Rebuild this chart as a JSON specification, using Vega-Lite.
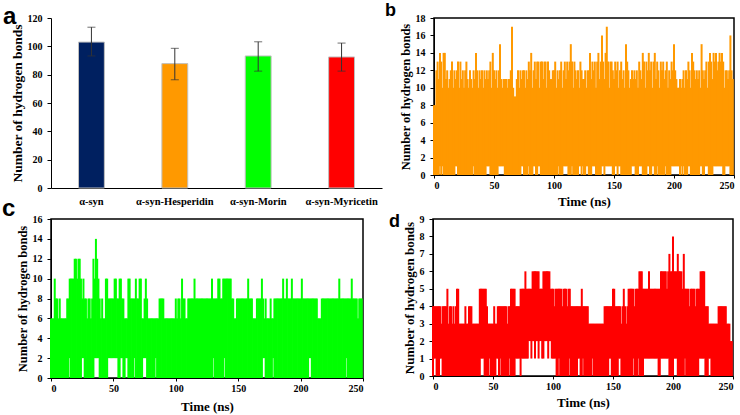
{
  "$schema": "https://vega.github.io/schema/vega-lite/v6.json",
  "background": "white",
  "padding": {"left": 1, "top": 1, "right": 0, "bottom": 0},
  "config": {
    "font": "Liberation Serif",
    "view": {"stroke": null},
    "axis": {
      "grid": false,
      "labelFont": "Liberation Serif",
      "labelFontWeight": "bold",
      "labelFontSize": 10,
      "labelColor": "black",
      "titleFont": "Liberation Serif",
      "titleFontWeight": "bold",
      "titleFontSize": 12,
      "titleColor": "black",
      "domainColor": "black",
      "tickColor": "black",
      "tickSize": 3,
      "labelPadding": 2
    },
    "axisY": {"tickSize": 4, "labelPadding": 5, "titlePadding": 3},
    "title": {
      "font": "Liberation Sans",
      "fontWeight": "bold",
      "color": "black",
      "anchor": "start",
      "frame": "group",
      "baseline": "alphabetic"
    }
  },
  "datasets": {
    "bonds": [
      {"g": "α-syn", "v": 103.0, "lo": 93.2, "hi": 113.5},
      {"g": "α-syn-Hesperidin", "v": 87.8, "lo": 76.4, "hi": 98.6},
      {"g": "α-syn-Morin", "v": 93.2, "lo": 82.5, "hi": 103.2},
      {"g": "α-syn-Myricetin", "v": 92.5, "lo": 82.5, "hi": 102.3}
    ],
    "hb_hesperidin": [
      {"t":0,"l":0,"h":8},{"t":1,"l":0,"h":8},{"t":2,"l":0,"h":12},{"t":3,"l":0,"h":13},{"t":4,"l":0,"h":11},
      {"t":5,"l":1,"h":14},{"t":6,"l":0,"h":13},{"t":7,"l":1,"h":10},{"t":8,"l":0,"h":14},{"t":9,"l":0,"h":14},
      {"t":10,"l":0,"h":11},{"t":11,"l":0,"h":12},{"t":12,"l":0,"h":10},{"t":13,"l":0,"h":11},{"t":14,"l":0,"h":12},
      {"t":15,"l":0,"h":13},{"t":16,"l":0,"h":10},{"t":17,"l":0,"h":12},{"t":18,"l":1,"h":11},{"t":19,"l":1,"h":12},
      {"t":20,"l":0,"h":13},{"t":21,"l":0,"h":10},{"t":22,"l":0,"h":13},{"t":23,"l":0,"h":11},{"t":24,"l":0,"h":12},
      {"t":25,"l":0,"h":10},{"t":26,"l":0,"h":12},{"t":27,"l":0,"h":13},{"t":28,"l":0,"h":11},{"t":29,"l":0,"h":10},
      {"t":30,"l":0,"h":12},{"t":31,"l":0,"h":11},{"t":32,"l":0,"h":10},{"t":33,"l":1,"h":12},{"t":34,"l":0,"h":11},
      {"t":35,"l":0,"h":14},{"t":36,"l":0,"h":12},{"t":37,"l":0,"h":10},{"t":38,"l":0,"h":12},{"t":39,"l":0,"h":11},
      {"t":40,"l":0,"h":12},{"t":41,"l":0,"h":10},{"t":42,"l":0,"h":12},{"t":43,"l":0,"h":11},{"t":44,"l":1,"h":12},
      {"t":45,"l":1,"h":11},{"t":46,"l":1,"h":12},{"t":47,"l":0,"h":13},{"t":48,"l":0,"h":10},{"t":49,"l":0,"h":14},
      {"t":50,"l":0,"h":12},{"t":51,"l":0,"h":11},{"t":52,"l":0,"h":12},{"t":53,"l":0,"h":10},{"t":54,"l":1,"h":12},
      {"t":55,"l":1,"h":15},{"t":56,"l":1,"h":11},{"t":57,"l":1,"h":10},{"t":58,"l":1,"h":11},{"t":59,"l":0,"h":11},
      {"t":60,"l":0,"h":11},{"t":61,"l":0,"h":10},{"t":62,"l":0,"h":11},{"t":63,"l":0,"h":11},{"t":64,"l":0,"h":12},
      {"t":65,"l":0,"h":17},{"t":66,"l":0,"h":10},{"t":67,"l":0,"h":9},{"t":68,"l":0,"h":9},{"t":69,"l":0,"h":11},
      {"t":70,"l":0,"h":12},{"t":71,"l":0,"h":10},{"t":72,"l":0,"h":12},{"t":73,"l":1,"h":11},{"t":74,"l":1,"h":12},
      {"t":75,"l":0,"h":12},{"t":76,"l":0,"h":10},{"t":77,"l":0,"h":12},{"t":78,"l":0,"h":11},{"t":79,"l":1,"h":13},
      {"t":80,"l":0,"h":12},{"t":81,"l":0,"h":14},{"t":82,"l":0,"h":10},{"t":83,"l":1,"h":12},{"t":84,"l":1,"h":13},
      {"t":85,"l":0,"h":11},{"t":86,"l":0,"h":13},{"t":87,"l":1,"h":13},{"t":88,"l":1,"h":10},{"t":89,"l":0,"h":13},
      {"t":90,"l":0,"h":13},{"t":91,"l":0,"h":11},{"t":92,"l":0,"h":13},{"t":93,"l":0,"h":13},{"t":94,"l":0,"h":10},
      {"t":95,"l":0,"h":13},{"t":96,"l":0,"h":12},{"t":97,"l":0,"h":11},{"t":98,"l":0,"h":11},{"t":99,"l":0,"h":12},
      {"t":100,"l":0,"h":12},{"t":101,"l":0,"h":13},{"t":102,"l":0,"h":10},{"t":103,"l":0,"h":12},{"t":104,"l":1,"h":11},
      {"t":105,"l":0,"h":12},{"t":106,"l":0,"h":13},{"t":107,"l":0,"h":10},{"t":108,"l":1,"h":12},{"t":109,"l":1,"h":13},
      {"t":110,"l":1,"h":11},{"t":111,"l":1,"h":13},{"t":112,"l":0,"h":12},{"t":113,"l":0,"h":13},{"t":114,"l":0,"h":15},
      {"t":115,"l":1,"h":13},{"t":116,"l":0,"h":10},{"t":117,"l":0,"h":13},{"t":118,"l":0,"h":12},{"t":119,"l":0,"h":11},
      {"t":120,"l":0,"h":12},{"t":121,"l":1,"h":10},{"t":122,"l":1,"h":13},{"t":123,"l":0,"h":12},{"t":124,"l":1,"h":11},
      {"t":125,"l":0,"h":11},{"t":126,"l":0,"h":12},{"t":127,"l":1,"h":10},{"t":128,"l":1,"h":12},{"t":129,"l":0,"h":12},
      {"t":130,"l":0,"h":14},{"t":131,"l":0,"h":11},{"t":132,"l":1,"h":13},{"t":133,"l":1,"h":12},{"t":134,"l":1,"h":13},
      {"t":135,"l":0,"h":10},{"t":136,"l":0,"h":13},{"t":137,"l":0,"h":14},{"t":138,"l":0,"h":11},{"t":139,"l":0,"h":13},
      {"t":140,"l":1,"h":16},{"t":141,"l":1,"h":13},{"t":142,"l":0,"h":11},{"t":143,"l":1,"h":14},{"t":144,"l":1,"h":17},
      {"t":145,"l":1,"h":13},{"t":146,"l":1,"h":10},{"t":147,"l":1,"h":13},{"t":148,"l":1,"h":13},{"t":149,"l":0,"h":12},
      {"t":150,"l":0,"h":11},{"t":151,"l":1,"h":13},{"t":152,"l":1,"h":12},{"t":153,"l":0,"h":13},{"t":154,"l":1,"h":10},
      {"t":155,"l":1,"h":12},{"t":156,"l":0,"h":13},{"t":157,"l":0,"h":11},{"t":158,"l":0,"h":12},{"t":159,"l":0,"h":10},
      {"t":160,"l":0,"h":15},{"t":161,"l":0,"h":13},{"t":162,"l":0,"h":12},{"t":163,"l":0,"h":10},{"t":164,"l":0,"h":11},
      {"t":165,"l":1,"h":12},{"t":166,"l":1,"h":11},{"t":167,"l":1,"h":12},{"t":168,"l":0,"h":11},{"t":169,"l":0,"h":12},
      {"t":170,"l":0,"h":10},{"t":171,"l":1,"h":13},{"t":172,"l":1,"h":12},{"t":173,"l":1,"h":11},{"t":174,"l":0,"h":14},
      {"t":175,"l":0,"h":13},{"t":176,"l":0,"h":10},{"t":177,"l":0,"h":13},{"t":178,"l":1,"h":12},{"t":179,"l":1,"h":14},
      {"t":180,"l":0,"h":12},{"t":181,"l":0,"h":13},{"t":182,"l":1,"h":10},{"t":183,"l":1,"h":13},{"t":184,"l":0,"h":14},
      {"t":185,"l":0,"h":11},{"t":186,"l":1,"h":13},{"t":187,"l":0,"h":12},{"t":188,"l":0,"h":10},{"t":189,"l":0,"h":13},
      {"t":190,"l":0,"h":12},{"t":191,"l":0,"h":13},{"t":192,"l":0,"h":11},{"t":193,"l":1,"h":12},{"t":194,"l":0,"h":13},
      {"t":195,"l":0,"h":10},{"t":196,"l":0,"h":12},{"t":197,"l":0,"h":11},{"t":198,"l":1,"h":13},{"t":199,"l":1,"h":12},
      {"t":200,"l":1,"h":15},{"t":201,"l":1,"h":12},{"t":202,"l":1,"h":11},{"t":203,"l":1,"h":10},{"t":204,"l":1,"h":10},
      {"t":205,"l":0,"h":11},{"t":206,"l":1,"h":10},{"t":207,"l":0,"h":11},{"t":208,"l":1,"h":12},{"t":209,"l":0,"h":10},
      {"t":210,"l":0,"h":12},{"t":211,"l":0,"h":11},{"t":212,"l":1,"h":13},{"t":213,"l":1,"h":12},{"t":214,"l":0,"h":10},
      {"t":215,"l":0,"h":14},{"t":216,"l":0,"h":13},{"t":217,"l":0,"h":12},{"t":218,"l":0,"h":11},{"t":219,"l":0,"h":12},
      {"t":220,"l":0,"h":11},{"t":221,"l":0,"h":12},{"t":222,"l":1,"h":10},{"t":223,"l":1,"h":15},{"t":224,"l":0,"h":12},
      {"t":225,"l":0,"h":11},{"t":226,"l":1,"h":12},{"t":227,"l":1,"h":13},{"t":228,"l":1,"h":10},{"t":229,"l":0,"h":13},
      {"t":230,"l":0,"h":14},{"t":231,"l":0,"h":13},{"t":232,"l":0,"h":11},{"t":233,"l":1,"h":14},{"t":234,"l":1,"h":13},
      {"t":235,"l":1,"h":14},{"t":236,"l":1,"h":12},{"t":237,"l":1,"h":13},{"t":238,"l":1,"h":14},{"t":239,"l":1,"h":13},
      {"t":240,"l":1,"h":14},{"t":241,"l":0,"h":13},{"t":242,"l":0,"h":10},{"t":243,"l":1,"h":12},{"t":244,"l":1,"h":12},
      {"t":245,"l":1,"h":11},{"t":246,"l":1,"h":12},{"t":247,"l":0,"h":16},{"t":248,"l":0,"h":12},{"t":249,"l":0,"h":11}
    ],
    "hb_morin": [
      {"t":0,"l":0,"h":6},{"t":1,"l":0,"h":6},{"t":2,"l":0,"h":6},{"t":3,"l":0,"h":10},{"t":4,"l":0,"h":8},
      {"t":5,"l":0,"h":8},{"t":6,"l":0,"h":6},{"t":7,"l":0,"h":8},{"t":8,"l":0,"h":6},{"t":9,"l":0,"h":6},
      {"t":10,"l":0,"h":6},{"t":11,"l":0,"h":6},{"t":12,"l":0,"h":6},{"t":13,"l":0,"h":8},{"t":14,"l":0,"h":8},
      {"t":15,"l":2,"h":10},{"t":16,"l":0,"h":10},{"t":17,"l":0,"h":10},{"t":18,"l":0,"h":10},{"t":19,"l":0,"h":12},
      {"t":20,"l":0,"h":12},{"t":21,"l":0,"h":10},{"t":22,"l":0,"h":12},{"t":23,"l":0,"h":12},{"t":24,"l":0,"h":10},
      {"t":25,"l":2,"h":8},{"t":26,"l":2,"h":10},{"t":27,"l":0,"h":8},{"t":28,"l":0,"h":8},{"t":29,"l":0,"h":6},
      {"t":30,"l":0,"h":8},{"t":31,"l":0,"h":8},{"t":32,"l":0,"h":6},{"t":33,"l":0,"h":8},{"t":34,"l":0,"h":12},
      {"t":35,"l":2,"h":10},{"t":36,"l":2,"h":14},{"t":37,"l":2,"h":12},{"t":38,"l":2,"h":10},{"t":39,"l":0,"h":8},
      {"t":40,"l":0,"h":6},{"t":41,"l":0,"h":8},{"t":42,"l":0,"h":6},{"t":43,"l":0,"h":6},{"t":44,"l":0,"h":10},
      {"t":45,"l":0,"h":10},{"t":46,"l":2,"h":8},{"t":47,"l":2,"h":8},{"t":48,"l":2,"h":8},{"t":49,"l":2,"h":8},
      {"t":50,"l":2,"h":8},{"t":51,"l":2,"h":10},{"t":52,"l":2,"h":10},{"t":53,"l":2,"h":8},{"t":54,"l":0,"h":8},
      {"t":55,"l":0,"h":10},{"t":56,"l":2,"h":10},{"t":57,"l":2,"h":8},{"t":58,"l":0,"h":8},{"t":59,"l":0,"h":6},
      {"t":60,"l":2,"h":6},{"t":61,"l":2,"h":6},{"t":62,"l":0,"h":10},{"t":63,"l":0,"h":10},{"t":64,"l":0,"h":8},
      {"t":65,"l":0,"h":8},{"t":66,"l":0,"h":8},{"t":67,"l":2,"h":8},{"t":68,"l":0,"h":10},{"t":69,"l":0,"h":8},
      {"t":70,"l":0,"h":8},{"t":71,"l":0,"h":10},{"t":72,"l":0,"h":10},{"t":73,"l":0,"h":6},{"t":74,"l":2,"h":6},
      {"t":75,"l":2,"h":8},{"t":76,"l":2,"h":10},{"t":77,"l":0,"h":8},{"t":78,"l":0,"h":6},{"t":79,"l":0,"h":6},
      {"t":80,"l":0,"h":6},{"t":81,"l":0,"h":6},{"t":82,"l":0,"h":6},{"t":83,"l":0,"h":6},{"t":84,"l":2,"h":6},
      {"t":85,"l":0,"h":6},{"t":86,"l":0,"h":6},{"t":87,"l":0,"h":8},{"t":88,"l":0,"h":8},{"t":89,"l":0,"h":8},
      {"t":90,"l":0,"h":8},{"t":91,"l":0,"h":6},{"t":92,"l":0,"h":6},{"t":93,"l":0,"h":6},{"t":94,"l":0,"h":6},
      {"t":95,"l":0,"h":6},{"t":96,"l":0,"h":6},{"t":97,"l":0,"h":6},{"t":98,"l":0,"h":6},{"t":99,"l":0,"h":6},
      {"t":100,"l":0,"h":8},{"t":101,"l":0,"h":6},{"t":102,"l":0,"h":8},{"t":103,"l":0,"h":8},{"t":104,"l":0,"h":6},
      {"t":105,"l":0,"h":10},{"t":106,"l":0,"h":8},{"t":107,"l":0,"h":8},{"t":108,"l":0,"h":6},{"t":109,"l":0,"h":6},
      {"t":110,"l":0,"h":8},{"t":111,"l":0,"h":8},{"t":112,"l":0,"h":8},{"t":113,"l":0,"h":8},{"t":114,"l":0,"h":8},
      {"t":115,"l":0,"h":10},{"t":116,"l":0,"h":8},{"t":117,"l":0,"h":8},{"t":118,"l":0,"h":8},{"t":119,"l":0,"h":8},
      {"t":120,"l":0,"h":8},{"t":121,"l":0,"h":8},{"t":122,"l":0,"h":8},{"t":123,"l":0,"h":8},{"t":124,"l":0,"h":8},
      {"t":125,"l":0,"h":8},{"t":126,"l":0,"h":8},{"t":127,"l":0,"h":8},{"t":128,"l":0,"h":8},{"t":129,"l":0,"h":10},
      {"t":130,"l":2,"h":8},{"t":131,"l":0,"h":8},{"t":132,"l":0,"h":8},{"t":133,"l":0,"h":8},{"t":134,"l":0,"h":10},
      {"t":135,"l":0,"h":10},{"t":136,"l":0,"h":8},{"t":137,"l":0,"h":8},{"t":138,"l":0,"h":10},{"t":139,"l":2,"h":10},
      {"t":140,"l":0,"h":10},{"t":141,"l":0,"h":10},{"t":142,"l":0,"h":10},{"t":143,"l":0,"h":10},{"t":144,"l":0,"h":10},
      {"t":145,"l":0,"h":8},{"t":146,"l":0,"h":8},{"t":147,"l":0,"h":6},{"t":148,"l":0,"h":6},{"t":149,"l":0,"h":8},
      {"t":150,"l":0,"h":8},{"t":151,"l":0,"h":8},{"t":152,"l":0,"h":8},{"t":153,"l":0,"h":8},{"t":154,"l":0,"h":8},
      {"t":155,"l":0,"h":8},{"t":156,"l":0,"h":8},{"t":157,"l":0,"h":8},{"t":158,"l":0,"h":10},{"t":159,"l":0,"h":8},
      {"t":160,"l":0,"h":8},{"t":161,"l":0,"h":8},{"t":162,"l":0,"h":6},{"t":163,"l":0,"h":6},{"t":164,"l":0,"h":6},
      {"t":165,"l":0,"h":8},{"t":166,"l":0,"h":8},{"t":167,"l":0,"h":8},{"t":168,"l":0,"h":8},{"t":169,"l":0,"h":10},
      {"t":170,"l":2,"h":8},{"t":171,"l":2,"h":6},{"t":172,"l":0,"h":8},{"t":173,"l":0,"h":6},{"t":174,"l":0,"h":6},
      {"t":175,"l":0,"h":6},{"t":176,"l":0,"h":8},{"t":177,"l":0,"h":6},{"t":178,"l":2,"h":6},{"t":179,"l":0,"h":8},
      {"t":180,"l":0,"h":8},{"t":181,"l":0,"h":8},{"t":182,"l":0,"h":8},{"t":183,"l":0,"h":8},{"t":184,"l":0,"h":8},
      {"t":185,"l":0,"h":8},{"t":186,"l":0,"h":10},{"t":187,"l":0,"h":8},{"t":188,"l":0,"h":8},{"t":189,"l":0,"h":10},
      {"t":190,"l":0,"h":8},{"t":191,"l":0,"h":8},{"t":192,"l":0,"h":8},{"t":193,"l":0,"h":10},{"t":194,"l":0,"h":8},
      {"t":195,"l":0,"h":8},{"t":196,"l":0,"h":8},{"t":197,"l":0,"h":8},{"t":198,"l":0,"h":8},{"t":199,"l":0,"h":8},
      {"t":200,"l":0,"h":8},{"t":201,"l":0,"h":10},{"t":202,"l":0,"h":8},{"t":203,"l":0,"h":8},{"t":204,"l":0,"h":8},
      {"t":205,"l":0,"h":8},{"t":206,"l":0,"h":8},{"t":207,"l":2,"h":8},{"t":208,"l":2,"h":8},{"t":209,"l":0,"h":8},
      {"t":210,"l":0,"h":8},{"t":211,"l":0,"h":8},{"t":212,"l":0,"h":8},{"t":213,"l":0,"h":8},{"t":214,"l":0,"h":6},
      {"t":215,"l":0,"h":6},{"t":216,"l":0,"h":6},{"t":217,"l":0,"h":8},{"t":218,"l":0,"h":8},{"t":219,"l":0,"h":8},
      {"t":220,"l":0,"h":8},{"t":221,"l":0,"h":8},{"t":222,"l":0,"h":8},{"t":223,"l":0,"h":8},{"t":224,"l":0,"h":8},
      {"t":225,"l":0,"h":8},{"t":226,"l":0,"h":8},{"t":227,"l":0,"h":8},{"t":228,"l":0,"h":8},{"t":229,"l":0,"h":8},
      {"t":230,"l":0,"h":8},{"t":231,"l":0,"h":10},{"t":232,"l":0,"h":8},{"t":233,"l":0,"h":8},{"t":234,"l":0,"h":8},
      {"t":235,"l":0,"h":8},{"t":236,"l":0,"h":8},{"t":237,"l":2,"h":8},{"t":238,"l":0,"h":8},{"t":239,"l":0,"h":8},
      {"t":240,"l":0,"h":8},{"t":241,"l":0,"h":10},{"t":242,"l":0,"h":8},{"t":243,"l":0,"h":8},{"t":244,"l":0,"h":8},
      {"t":245,"l":0,"h":8},{"t":246,"l":0,"h":6},{"t":247,"l":0,"h":8},{"t":248,"l":0,"h":8},{"t":249,"l":0,"h":8}
    ],
    "hb_myricetin": [
      {"t":0,"l":0,"h":4},{"t":1,"l":1,"h":4},{"t":2,"l":1,"h":4},{"t":3,"l":0,"h":4},{"t":4,"l":0,"h":4},
      {"t":5,"l":0,"h":4},{"t":6,"l":1,"h":4},{"t":7,"l":1,"h":3},{"t":8,"l":0,"h":4},{"t":9,"l":0,"h":4},
      {"t":10,"l":0,"h":4},{"t":11,"l":0,"h":4},{"t":12,"l":0,"h":5},{"t":13,"l":0,"h":3},{"t":14,"l":0,"h":4},
      {"t":15,"l":0,"h":4},{"t":16,"l":0,"h":3},{"t":17,"l":0,"h":4},{"t":18,"l":0,"h":3},{"t":19,"l":0,"h":4},
      {"t":20,"l":0,"h":5},{"t":21,"l":0,"h":5},{"t":22,"l":0,"h":3},{"t":23,"l":0,"h":3},{"t":24,"l":0,"h":3},
      {"t":25,"l":0,"h":3},{"t":26,"l":0,"h":3},{"t":27,"l":0,"h":4},{"t":28,"l":0,"h":3},{"t":29,"l":0,"h":3},
      {"t":30,"l":0,"h":4},{"t":31,"l":0,"h":4},{"t":32,"l":0,"h":4},{"t":33,"l":0,"h":3},{"t":34,"l":0,"h":3},
      {"t":35,"l":0,"h":3},{"t":36,"l":0,"h":3},{"t":37,"l":0,"h":3},{"t":38,"l":0,"h":3},{"t":39,"l":0,"h":5},
      {"t":40,"l":1,"h":5},{"t":41,"l":1,"h":5},{"t":42,"l":1,"h":5},{"t":43,"l":0,"h":5},{"t":44,"l":0,"h":5},
      {"t":45,"l":0,"h":4},{"t":46,"l":0,"h":3},{"t":47,"l":1,"h":3},{"t":48,"l":0,"h":3},{"t":49,"l":0,"h":3},
      {"t":50,"l":0,"h":3},{"t":51,"l":0,"h":4},{"t":52,"l":0,"h":3},{"t":53,"l":1,"h":3},{"t":54,"l":1,"h":4},
      {"t":55,"l":0,"h":4},{"t":56,"l":1,"h":4},{"t":57,"l":0,"h":4},{"t":58,"l":0,"h":4},{"t":59,"l":0,"h":4},
      {"t":60,"l":0,"h":4},{"t":61,"l":0,"h":4},{"t":62,"l":0,"h":3},{"t":63,"l":0,"h":4},{"t":64,"l":1,"h":4},
      {"t":65,"l":0,"h":5},{"t":66,"l":0,"h":5},{"t":67,"l":0,"h":5},{"t":68,"l":0,"h":5},{"t":69,"l":1,"h":4},
      {"t":70,"l":1,"h":4},{"t":71,"l":1,"h":4},{"t":72,"l":1,"h":4},{"t":73,"l":0,"h":5},{"t":74,"l":1,"h":5},
      {"t":75,"l":1,"h":5},{"t":76,"l":1,"h":5},{"t":77,"l":1,"h":6},{"t":78,"l":1,"h":5},{"t":79,"l":1,"h":5},
      {"t":80,"l":2,"h":5},{"t":81,"l":2,"h":5},{"t":82,"l":1,"h":5},{"t":83,"l":2,"h":6},{"t":84,"l":2,"h":6},
      {"t":85,"l":1,"h":6},{"t":86,"l":2,"h":6},{"t":87,"l":2,"h":6},{"t":88,"l":1,"h":6},{"t":89,"l":2,"h":5},
      {"t":90,"l":2,"h":5},{"t":91,"l":1,"h":5},{"t":92,"l":1,"h":6},{"t":93,"l":2,"h":6},{"t":94,"l":2,"h":6},
      {"t":95,"l":2,"h":6},{"t":96,"l":1,"h":6},{"t":97,"l":2,"h":6},{"t":98,"l":2,"h":5},{"t":99,"l":1,"h":5},
      {"t":100,"l":1,"h":5},{"t":101,"l":1,"h":4},{"t":102,"l":1,"h":5},{"t":103,"l":0,"h":5},{"t":104,"l":0,"h":5},
      {"t":105,"l":1,"h":5},{"t":106,"l":0,"h":5},{"t":107,"l":0,"h":5},{"t":108,"l":0,"h":4},{"t":109,"l":0,"h":5},
      {"t":110,"l":0,"h":5},{"t":111,"l":0,"h":5},{"t":112,"l":0,"h":4},{"t":113,"l":0,"h":5},{"t":114,"l":1,"h":5},
      {"t":115,"l":0,"h":4},{"t":116,"l":0,"h":4},{"t":117,"l":0,"h":4},{"t":118,"l":0,"h":4},{"t":119,"l":0,"h":4},
      {"t":120,"l":0,"h":4},{"t":121,"l":1,"h":4},{"t":122,"l":1,"h":4},{"t":123,"l":0,"h":4},{"t":124,"l":0,"h":5},
      {"t":125,"l":1,"h":4},{"t":126,"l":0,"h":4},{"t":127,"l":0,"h":4},{"t":128,"l":0,"h":4},{"t":129,"l":0,"h":4},
      {"t":130,"l":0,"h":3},{"t":131,"l":0,"h":3},{"t":132,"l":0,"h":3},{"t":133,"l":1,"h":3},{"t":134,"l":0,"h":3},
      {"t":135,"l":0,"h":3},{"t":136,"l":0,"h":3},{"t":137,"l":0,"h":3},{"t":138,"l":0,"h":3},{"t":139,"l":0,"h":3},
      {"t":140,"l":0,"h":3},{"t":141,"l":0,"h":3},{"t":142,"l":0,"h":3},{"t":143,"l":0,"h":4},{"t":144,"l":0,"h":4},
      {"t":145,"l":0,"h":4},{"t":146,"l":0,"h":4},{"t":147,"l":1,"h":4},{"t":148,"l":1,"h":4},{"t":149,"l":0,"h":4},
      {"t":150,"l":0,"h":5},{"t":151,"l":0,"h":5},{"t":152,"l":0,"h":4},{"t":153,"l":0,"h":4},{"t":154,"l":0,"h":4},
      {"t":155,"l":1,"h":4},{"t":156,"l":1,"h":4},{"t":157,"l":0,"h":3},{"t":158,"l":0,"h":4},{"t":159,"l":0,"h":5},
      {"t":160,"l":0,"h":4},{"t":161,"l":0,"h":3},{"t":162,"l":0,"h":4},{"t":163,"l":0,"h":5},{"t":164,"l":0,"h":5},
      {"t":165,"l":0,"h":5},{"t":166,"l":0,"h":5},{"t":167,"l":1,"h":5},{"t":168,"l":0,"h":4},{"t":169,"l":0,"h":5},
      {"t":170,"l":0,"h":5},{"t":171,"l":1,"h":5},{"t":172,"l":0,"h":6},{"t":173,"l":0,"h":6},{"t":174,"l":0,"h":6},
      {"t":175,"l":0,"h":5},{"t":176,"l":1,"h":5},{"t":177,"l":1,"h":5},{"t":178,"l":1,"h":5},{"t":179,"l":1,"h":5},
      {"t":180,"l":1,"h":6},{"t":181,"l":1,"h":5},{"t":182,"l":1,"h":5},{"t":183,"l":1,"h":5},{"t":184,"l":1,"h":5},
      {"t":185,"l":1,"h":5},{"t":186,"l":1,"h":5},{"t":187,"l":1,"h":5},{"t":188,"l":0,"h":5},{"t":189,"l":0,"h":5},
      {"t":190,"l":1,"h":6},{"t":191,"l":1,"h":6},{"t":192,"l":1,"h":6},{"t":193,"l":1,"h":6},{"t":194,"l":1,"h":6},
      {"t":195,"l":1,"h":5},{"t":196,"l":1,"h":6},{"t":197,"l":0,"h":7},{"t":198,"l":0,"h":6},{"t":199,"l":0,"h":6},
      {"t":200,"l":0,"h":8},{"t":201,"l":1,"h":6},{"t":202,"l":1,"h":6},{"t":203,"l":1,"h":6},{"t":204,"l":0,"h":7},
      {"t":205,"l":0,"h":6},{"t":206,"l":0,"h":6},{"t":207,"l":0,"h":6},{"t":208,"l":0,"h":5},{"t":209,"l":0,"h":7},
      {"t":210,"l":1,"h":5},{"t":211,"l":0,"h":5},{"t":212,"l":0,"h":5},{"t":213,"l":0,"h":5},{"t":214,"l":0,"h":4},
      {"t":215,"l":0,"h":5},{"t":216,"l":0,"h":5},{"t":217,"l":0,"h":5},{"t":218,"l":0,"h":5},{"t":219,"l":0,"h":4},
      {"t":220,"l":0,"h":5},{"t":221,"l":0,"h":5},{"t":222,"l":1,"h":5},{"t":223,"l":1,"h":6},{"t":224,"l":1,"h":6},
      {"t":225,"l":1,"h":6},{"t":226,"l":1,"h":6},{"t":227,"l":0,"h":4},{"t":228,"l":0,"h":4},{"t":229,"l":0,"h":4},
      {"t":230,"l":1,"h":3},{"t":231,"l":1,"h":3},{"t":232,"l":0,"h":3},{"t":233,"l":0,"h":3},{"t":234,"l":0,"h":3},
      {"t":235,"l":0,"h":3},{"t":236,"l":0,"h":3},{"t":237,"l":0,"h":3},{"t":238,"l":0,"h":4},{"t":239,"l":0,"h":4},
      {"t":240,"l":0,"h":4},{"t":241,"l":0,"h":4},{"t":242,"l":0,"h":4},{"t":243,"l":0,"h":4},{"t":244,"l":0,"h":4},
      {"t":245,"l":0,"h":3},{"t":246,"l":0,"h":3},{"t":247,"l":0,"h":3},{"t":248,"l":0,"h":2},{"t":249,"l":0,"h":2}
    ]
  },
  "spacing": -13,
  "vconcat": [
    {
      "spacing": 52,
      "bounds": "flush",
      "hconcat": [
        {
          "width": 331,
          "height": 170,
          "title": {"text": "a", "fontSize": 24, "dx": -48, "offset": -16},
          "data": {"name": "bonds"},
          "encoding": {
            "x": {
              "field": "g", "type": "nominal", "sort": null,
              "scale": {"paddingInner": 0.69, "paddingOuter": 0.33},
              "axis": {"title": null, "labelAngle": 0, "ticks": false, "labelPadding": 8, "labelFontSize": 10.5}
            }
          },
          "layer": [
            {
              "mark": {"type": "bar", "stroke": "#BFBFBF", "strokeWidth": 1},
              "encoding": {
                "y": {
                  "field": "v", "type": "quantitative",
                  "scale": {"domain": [0, 120], "nice": false},
                  "axis": {"title": "Number of hydrogen bonds", "values": [0, 20, 40, 60, 80, 100, 120], "titleFontSize": 13.5}
                },
                "color": {
                  "field": "g", "type": "nominal", "legend": null,
                  "scale": {
                    "domain": ["α-syn", "α-syn-Hesperidin", "α-syn-Morin", "α-syn-Myricetin"],
                    "range": ["#002060", "#FF9900", "#00FF00", "#FF0000"]
                  }
                }
              }
            },
            {
              "mark": {"type": "errorbar", "ticks": {"size": 8, "color": "#333333"}, "rule": {"color": "#333333", "strokeWidth": 1}},
              "encoding": {
                "y": {
                  "field": "lo", "type": "quantitative",
                  "axis": {"title": "Number of hydrogen bonds", "values": [0, 20, 40, 60, 80, 100, 120], "titleFontSize": 13.5}
                },
                "y2": {"field": "hi"}
              }
            }
          ]
        },
        {
          "width": 300,
          "height": 157,
          "title": {"text": "b", "fontSize": 18, "dx": -49, "offset": -7},
          "view": {"stroke": "black", "strokeWidth": 1.5},
          "data": {"name": "hb_hesperidin"},
          "mark": {"type": "rule", "color": "#FF9900", "strokeWidth": 2},
          "encoding": {
            "x": {
              "field": "t", "type": "quantitative",
              "scale": {"domain": [0, 250], "nice": false},
              "axis": {"title": "Time (ns)", "values": [0, 50, 100, 150, 200, 250], "titleFontSize": 13, "titlePadding": 5}
            },
            "y": {
              "field": "l", "type": "quantitative",
              "scale": {"domain": [0, 18], "nice": false},
              "axis": {"title": "Number of hydrogen bonds", "values": [0, 2, 4, 6, 8, 10, 12, 14, 16, 18], "titleFontSize": 12.5}
            },
            "y2": {"field": "h"}
          }
        }
      ]
    },
    {
      "spacing": 70,
      "bounds": "flush",
      "hconcat": [
        {
          "width": 312,
          "height": 159,
          "title": {"text": "c", "fontSize": 24, "dx": -49, "offset": -7},
          "view": {"stroke": "black", "strokeWidth": 1.5},
          "data": {"name": "hb_morin"},
          "mark": {"type": "rule", "color": "#00FF00", "strokeWidth": 2},
          "encoding": {
            "x": {
              "field": "t", "type": "quantitative",
              "scale": {"domain": [0, 250], "nice": false},
              "axis": {"title": "Time (ns)", "values": [0, 50, 100, 150, 200, 250], "titleFontSize": 13, "titlePadding": 7}
            },
            "y": {
              "field": "l", "type": "quantitative",
              "scale": {"domain": [0, 16], "nice": false},
              "axis": {"title": "Number of hydrogen bonds", "values": [0, 2, 4, 6, 8, 10, 12, 14, 16], "titleFontSize": 12.5}
            },
            "y2": {"field": "h"}
          }
        },
        {
          "width": 300,
          "height": 157,
          "title": {"text": "d", "fontSize": 18, "dx": -44, "offset": -17},
          "view": {"stroke": "black", "strokeWidth": 1.5},
          "data": {"name": "hb_myricetin"},
          "mark": {"type": "rule", "color": "#FF0000", "strokeWidth": 2},
          "encoding": {
            "x": {
              "field": "t", "type": "quantitative",
              "scale": {"domain": [0, 250], "nice": false},
              "axis": {"title": "Time (ns)", "values": [0, 50, 100, 150, 200, 250], "titleFontSize": 13, "titlePadding": 5}
            },
            "y": {
              "field": "l", "type": "quantitative",
              "scale": {"domain": [0, 9], "nice": false},
              "axis": {"title": "Number of hydrogen bonds", "values": [0, 1, 2, 3, 4, 5, 6, 7, 8, 9], "titleFontSize": 13}
            },
            "y2": {"field": "h"}
          }
        }
      ]
    }
  ]
}
